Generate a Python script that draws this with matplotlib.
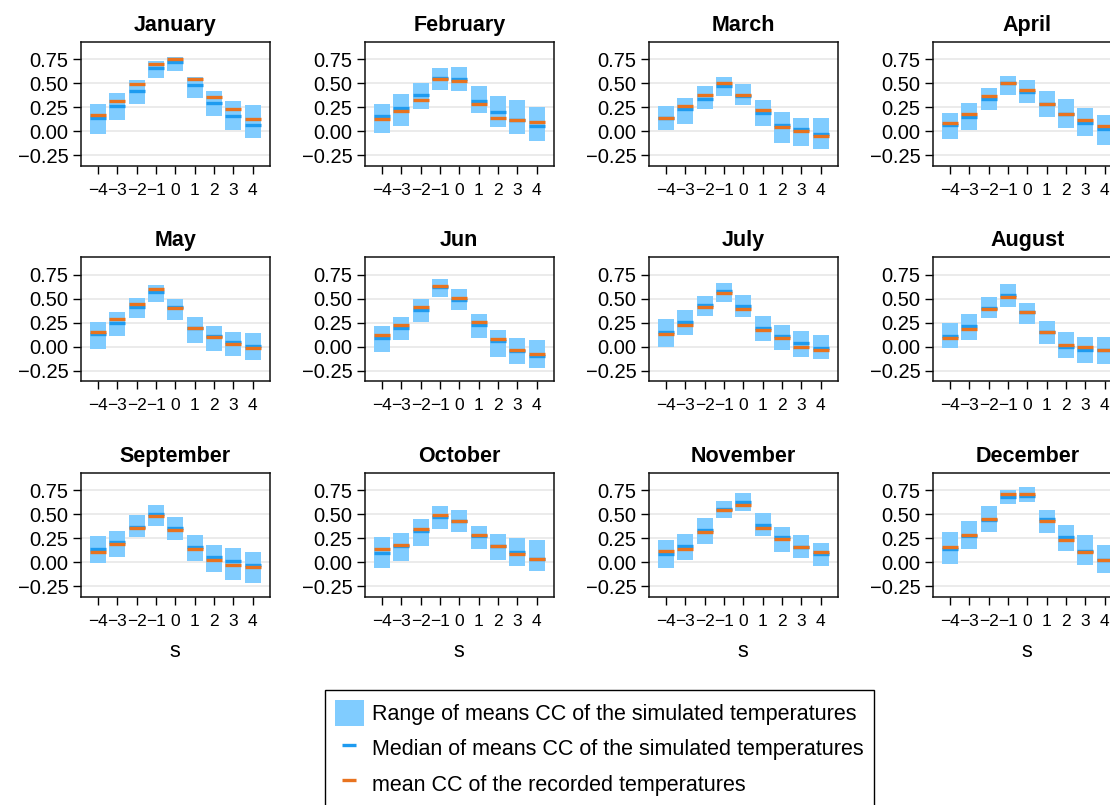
import numpy as np
import matplotlib
matplotlib.use("Agg")
import matplotlib.pyplot as plt
from matplotlib.patches import Patch
from matplotlib.lines import Line2D

plt.rcParams['font.family'] = ['Liberation Sans', 'DejaVu Sans']

# --- data -----------------------------------------------------------
months = ["January", "February", "March", "April", "May", "Jun",
          "July", "August", "September", "October", "November", "December"]
lags = [-4, -3, -2, -1, 0, 1, 2, 3, 4]

# lower edge of the range of means CC (simulated)
sim_low = [
    [-0.03, 0.12, 0.28, 0.56, 0.63, 0.35, 0.16, 0.01, -0.07],
    [-0.02, 0.06, 0.23, 0.43, 0.42, 0.19, 0.05, -0.03, -0.10],
    [0.01, 0.08, 0.23, 0.37, 0.27, 0.06, -0.12, -0.15, -0.18],
    [-0.08, 0.01, 0.22, 0.38, 0.30, 0.15, 0.04, -0.05, -0.14],
    [-0.02, 0.11, 0.30, 0.47, 0.28, 0.04, -0.04, -0.09, -0.14],
    [-0.05, 0.07, 0.26, 0.52, 0.38, 0.09, -0.10, -0.18, -0.22],
    [0.00, 0.12, 0.32, 0.47, 0.31, 0.06, -0.03, -0.10, -0.13],
    [-0.01, 0.07, 0.30, 0.41, 0.24, 0.03, -0.12, -0.17, -0.18],
    [-0.01, 0.06, 0.26, 0.38, 0.23, 0.01, -0.10, -0.18, -0.21],
    [-0.06, 0.01, 0.17, 0.35, 0.32, 0.14, 0.03, -0.04, -0.09],
    [-0.06, 0.03, 0.19, 0.46, 0.53, 0.27, 0.11, 0.05, -0.04],
    [-0.02, 0.14, 0.32, 0.61, 0.63, 0.31, 0.12, -0.03, -0.11],
]
# upper edge of the range of means CC (simulated)
sim_high = [
    [0.28, 0.40, 0.53, 0.73, 0.77, 0.57, 0.42, 0.32, 0.27],
    [0.29, 0.39, 0.50, 0.66, 0.67, 0.47, 0.37, 0.33, 0.25],
    [0.26, 0.35, 0.47, 0.57, 0.49, 0.33, 0.20, 0.14, 0.14],
    [0.19, 0.30, 0.45, 0.58, 0.53, 0.42, 0.34, 0.24, 0.17],
    [0.26, 0.36, 0.51, 0.64, 0.50, 0.31, 0.22, 0.16, 0.14],
    [0.22, 0.31, 0.50, 0.71, 0.60, 0.34, 0.18, 0.09, 0.07],
    [0.29, 0.38, 0.53, 0.66, 0.54, 0.32, 0.23, 0.17, 0.12],
    [0.25, 0.34, 0.52, 0.65, 0.46, 0.27, 0.15, 0.10, 0.10],
    [0.27, 0.33, 0.49, 0.60, 0.47, 0.28, 0.18, 0.15, 0.11],
    [0.26, 0.31, 0.45, 0.59, 0.55, 0.38, 0.30, 0.25, 0.23],
    [0.23, 0.30, 0.46, 0.64, 0.72, 0.51, 0.37, 0.29, 0.20],
    [0.32, 0.43, 0.59, 0.75, 0.78, 0.54, 0.39, 0.29, 0.18],
]
# median of means CC (simulated)
sim_median = [
    [0.14, 0.26, 0.42, 0.66, 0.72, 0.48, 0.30, 0.16, 0.07],
    [0.16, 0.24, 0.38, 0.56, 0.55, 0.32, 0.20, 0.12, 0.06],
    [0.14, 0.23, 0.34, 0.47, 0.37, 0.19, 0.07, 0.02, -0.03],
    [0.07, 0.15, 0.34, 0.50, 0.41, 0.28, 0.18, 0.09, 0.03],
    [0.13, 0.25, 0.42, 0.57, 0.41, 0.20, 0.11, 0.05, 0.01],
    [0.09, 0.20, 0.38, 0.62, 0.49, 0.23, 0.06, -0.04, -0.09],
    [0.16, 0.26, 0.44, 0.58, 0.43, 0.20, 0.11, 0.04, -0.01],
    [0.11, 0.22, 0.40, 0.54, 0.36, 0.15, 0.00, -0.03, -0.03],
    [0.14, 0.21, 0.37, 0.50, 0.36, 0.16, 0.06, 0.01, -0.03],
    [0.10, 0.17, 0.33, 0.47, 0.43, 0.27, 0.17, 0.11, 0.04],
    [0.09, 0.17, 0.34, 0.56, 0.63, 0.39, 0.26, 0.16, 0.09],
    [0.14, 0.27, 0.44, 0.68, 0.69, 0.45, 0.26, 0.12, 0.03],
]
# mean CC of the recorded temperatures
rec_mean = [
    [0.17, 0.32, 0.49, 0.70, 0.75, 0.54, 0.36, 0.23, 0.13],
    [0.13, 0.21, 0.33, 0.54, 0.52, 0.28, 0.14, 0.12, 0.10],
    [0.14, 0.26, 0.38, 0.50, 0.38, 0.22, 0.05, 0.00, -0.05],
    [0.09, 0.18, 0.37, 0.50, 0.43, 0.28, 0.18, 0.12, 0.06],
    [0.16, 0.29, 0.45, 0.60, 0.40, 0.20, 0.10, 0.03, -0.01],
    [0.12, 0.23, 0.41, 0.63, 0.51, 0.26, 0.08, -0.03, -0.07],
    [0.13, 0.23, 0.41, 0.56, 0.39, 0.18, 0.09, 0.00, -0.03],
    [0.09, 0.19, 0.39, 0.52, 0.36, 0.15, 0.02, 0.00, -0.03],
    [0.11, 0.19, 0.36, 0.48, 0.34, 0.14, 0.03, -0.03, -0.05],
    [0.14, 0.18, 0.35, 0.49, 0.43, 0.28, 0.17, 0.09, 0.04],
    [0.12, 0.14, 0.32, 0.54, 0.60, 0.36, 0.24, 0.16, 0.11],
    [0.16, 0.29, 0.45, 0.71, 0.71, 0.43, 0.23, 0.11, 0.03],
]

# --- styling --------------------------------------------------------
box_color = "#80CCFF"
median_color = "#1E9BF0"
mean_color = "#E8731F"
half_w = 0.41

W, H = 1110, 805
fig = plt.figure(figsize=(W / 100, H / 100), dpi=100)

col_left = [81, 365, 649, 933]
row_top = [42, 257.5, 473]
ax_w, ax_h = 188.6, 124

for i, month in enumerate(months):
    r, c = divmod(i, 4)
    ax = fig.add_axes([col_left[c] / W, 1 - (row_top[r] + ax_h) / H,
                       ax_w / W, ax_h / H])
    lo = np.array(sim_low[i])
    hi = np.array(sim_high[i])
    x = np.array(lags)

    ax.bar(x, hi - lo, bottom=lo, width=2 * half_w, color=box_color,
           linewidth=0, zorder=2)
    ax.hlines(sim_median[i], x - half_w, x + half_w, colors=median_color,
              linewidth=2.4, capstyle="butt", zorder=3)
    ax.hlines(rec_mean[i], x - half_w, x + half_w, colors=mean_color,
              linewidth=2.4, capstyle="butt", zorder=4)

    ax.set_xlim(-4.87, 4.87)
    ax.set_ylim(-0.36, 0.93)
    ax.set_xticks(lags)
    ax.set_yticks([-0.25, 0.0, 0.25, 0.5, 0.75])
    ax.yaxis.grid(True, color="#e6e6e6", linewidth=1.1, zorder=0)
    ax.set_axisbelow(True)
    for sp in ax.spines.values():
        sp.set_linewidth(1.1)
        sp.set_color("#111111")
    ax.tick_params(axis="y", labelsize=14.5, length=6, width=1, pad=3)
    ax.tick_params(axis="x", labelsize=12.5, length=6, width=1, pad=6)
    ax.set_title(month, fontsize=15.5, fontweight="bold", pad=8)
    if r == 2:
        ax.set_xlabel("s", fontsize=15.5, labelpad=9)

handles = [
    Patch(facecolor=box_color, edgecolor="none"),
    Line2D([], [], color=median_color, marker="_", linestyle="none",
           markersize=10, markeredgewidth=2.4),
    Line2D([], [], color=mean_color, marker="_", linestyle="none",
           markersize=10, markeredgewidth=2.4),
]
labels = [
    "Range of means CC of the simulated temperatures",
    "Median of means CC of the simulated temperatures",
    "mean CC of the recorded temperatures",
]
leg = fig.legend(handles, labels, loc="upper left",
                 bbox_to_anchor=(325 / W, 1 - 690 / H),
                 fontsize=15.5, frameon=True, fancybox=False,
                 framealpha=1, edgecolor="black",
                 handlelength=1.35, handleheight=1.5,
                 handletextpad=0.4, labelspacing=0.42, borderpad=0.45,
                 borderaxespad=0)
leg.get_frame().set_linewidth(1.0)

fig.savefig("out.png", dpi=100)
